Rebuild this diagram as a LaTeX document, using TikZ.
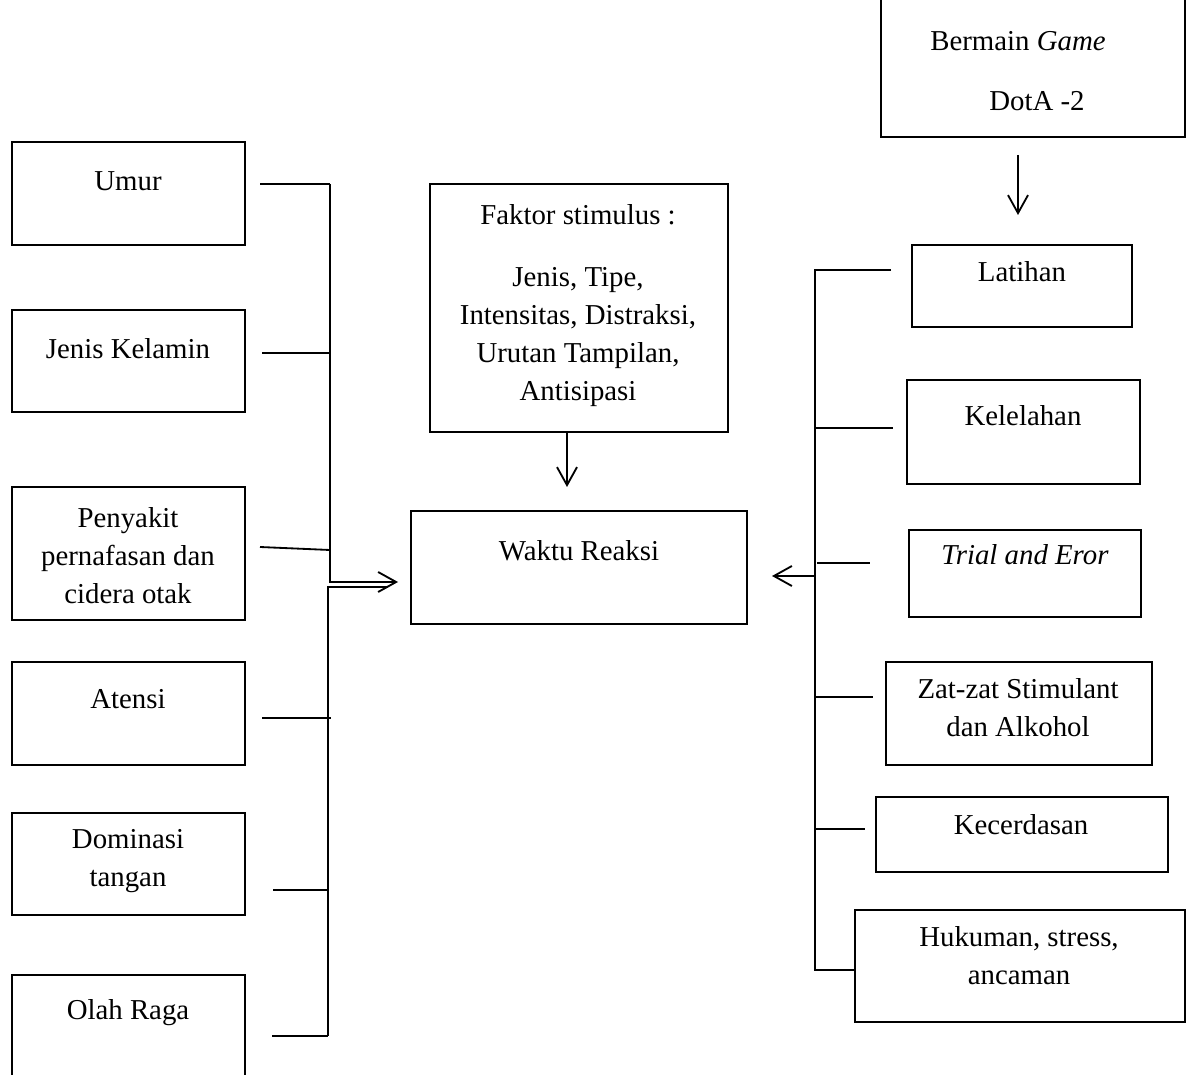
\documentclass[tikz,border=0pt]{standalone}
\usepackage{fontspec}
\setmainfont{Liberation Serif}
\usetikzlibrary{arrows.meta,fit}
\begin{document}
\begin{tikzpicture}[
		x=0.025cm, y=-0.025cm,
		line width=1.3pt,
		>={Straight Barb[length=0.45cm,width=0.5cm,line width=1.3pt]},
		every node/.style={font=\fontsize{20.5pt}{27pt}\selectfont, align=center},
		box/.style={draw, inner sep=0pt, line width=1.4pt}
	]
	\useasboundingbox (0,0) rectangle (1198,1075);

	% left column
	\node[box, fit={(12,142) (245,245)}] (umur) {};
	\node at (128,181) {Umur};
	\node[box, fit={(12,310) (245,412)}] (kelamin) {};
	\node at (128,349) {Jenis Kelamin};
	\node[box, fit={(12,487) (245,620)}] (penyakit) {};
	\node at (128,556) {Penyakit\\pernafasan dan\\cidera otak};
	\node[box, fit={(12,662) (245,765)}] (atensi) {};
	\node at (128,699) {Atensi};
	\node[box, fit={(12,813) (245,915)}] (dominasi) {};
	\node at (128,861) {Dominasi\\tangan};
	\node[box, fit={(12,975) (245,1085)}] (olahraga) {};
	\node at (128,1013) {Olah Raga};

	% middle
	\node[box, fit={(430,184) (728,432)}] (stimulus) {};
	\node at (578,215) {Faktor stimulus :};
	\node at (578,337) {Jenis, Tipe,\\Intensitas, Distraksi,\\Urutan Tampilan,\\Antisipasi};
	\node[box, fit={(411,511) (747,624)}] (reaksi) {};
	\node at (579,551) {Waktu Reaksi};

	% right column
	\node[box, fit={(881,-10) (1185,137)}] (game) {};
	\node at (1018,41) {Bermain \textit{Game}};
	\node at (1037,101) {DotA -2};
	\node[box, fit={(912,245) (1132,327)}] (latihan) {};
	\node at (1022,272) {Latihan};
	\node[box, fit={(907,380) (1140,484)}] (lelah) {};
	\node at (1023,416) {Kelelahan};
	\node[box, fit={(909,530) (1141,617)}] (trial) {};
	\node at (1025,555) {\textit{Trial and Eror}};
	\node[box, fit={(886,662) (1152,765)}] (zat) {};
	\node at (1018,708) {Zat-zat Stimulant\\dan Alkohol};
	\node[box, fit={(876,797) (1168,872)}] (cerdas) {};
	\node at (1021,825) {Kecerdasan};
	\node[box, fit={(855,910) (1185,1022)}] (hukuman) {};
	\node at (1019,956) {Hukuman, stress,\\ancaman};

	% left connectors
	\coordinate (l1) at (260,184);
	\coordinate (l2) at (262,353);
	\coordinate (l3) at (260,547);
	\coordinate (l4) at (262,718);
	\coordinate (l5) at (273,890);
	\coordinate (l6) at (272,1036);
	\coordinate (ta) at (330,184);
	\coordinate (tb) at (330,582);
	\coordinate (ba) at (328,1036);
	\coordinate (bb) at (328,587);
	\coordinate (ar) at (398,582);
	\coordinate (ar2) at (388,587);
	\draw (l1) -- (ta);
	\draw (l2) -- (330,353);
	\draw (l3) -- (330,550);
	\draw (l4) -- (331,718);
	\draw (l5) -- (328,890);
	\draw (l6) -- (ba);
	\draw[->] (ta) -- (tb) -- (ar);
	\draw (ba) -- (bb) -- (ar2);

	% right connectors
	\coordinate (rt) at (815,270);
	\coordinate (rb) at (815,970);
	\coordinate (rm) at (815,576);
	\coordinate (rl) at (772,576);
	\draw (891,270) -- (rt) -- (rb) -- (855,970);
	\draw (815,428) -- (893,428);
	\draw (817,563) -- (870,563);
	\draw (815,697) -- (873,697);
	\draw (815,829) -- (865,829);
	\draw[->] (rm) -- (rl);

	% arrows down
	\coordinate (g1) at (1018,155);
	\coordinate (g2) at (1018,215);
	\draw[->] (g1) -- (g2);
	\coordinate (s1) at (567,432);
	\coordinate (s2) at (567,487);
	\draw[->] (s1) -- (s2);
\end{tikzpicture}
\end{document}
